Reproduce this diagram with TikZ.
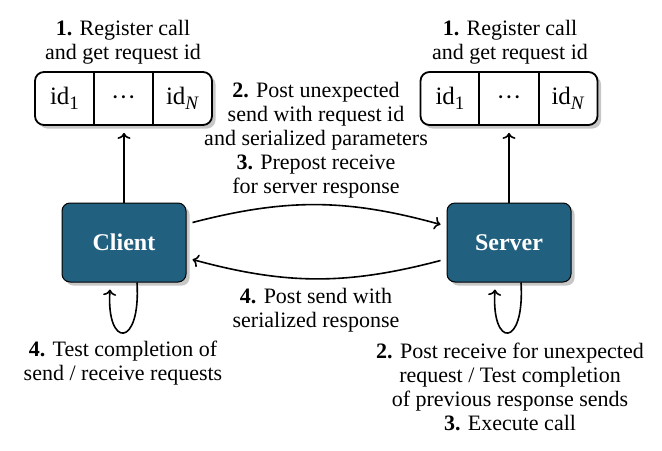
\documentclass[tikz,border=0pt]{standalone}
\usepackage{fontspec}
\setmainfont{Liberation Serif}
\usetikzlibrary{shadows,calc,arrows.meta}
\definecolor{nodeblue}{RGB}{34,96,128}
\tikzset{
  shad/.style={drop shadow={shadow xshift=1.8pt,shadow yshift=-1.8pt,fill=black!22,opacity=1}},
  actor/.style={draw=black,line width=0.5pt,fill=nodeblue,rounded corners=4pt,minimum width=62pt,minimum height=39.5pt,
    text=white,font=\fontsize{12}{14}\selectfont\bfseries,shad},
  idbox/.style={draw=black,line width=0.9pt,fill=white,rounded corners=4.5pt,minimum width=88.5pt,minimum height=26.5pt,shad},
  idtxt/.style={font=\fontsize{12.5}{14}\selectfont,inner sep=0pt},
  lbl/.style={align=center,font=\fontsize{11}{12}\selectfont,inner sep=0pt},
  conn/.style={-{To[length=3pt,width=6.5pt]},line width=0.8pt},
  divl/.style={line width=0.9pt}
}
\newcommand{\sbs}[1]{\raisebox{-0.4ex}{\fontsize{9.5}{10}\selectfont #1}}
\begin{document}
\begin{tikzpicture}[x=0.5pt,y=-0.5pt]
\useasboundingbox (0,0) rectangle (662,450);

% id boxes
\node[idbox] (idsL) at (123.5,98.5) {};
\node[idbox] (idsR) at (509,98.5) {};
\draw[divl] ($(idsL.north west)!1/3!(idsL.north east)$) coordinate (l1t) -- ($(idsL.south west)!1/3!(idsL.south east)$) coordinate (l1b);
\draw[divl] ($(idsL.north west)!2/3!(idsL.north east)$) coordinate (l2t) -- ($(idsL.south west)!2/3!(idsL.south east)$) coordinate (l2b);
\draw[divl] ($(idsR.north west)!1/3!(idsR.north east)$) coordinate (r1t) -- ($(idsR.south west)!1/3!(idsR.south east)$) coordinate (r1b);
\draw[divl] ($(idsR.north west)!2/3!(idsR.north east)$) coordinate (r2t) -- ($(idsR.south west)!2/3!(idsR.south east)$) coordinate (r2b);
\node[idtxt] (idL1) at ($(idsL.center)+(-59,0)$) {id\sbs{1}};
\node[idtxt] (idL2) at ($(idsL.center)+(0,2.5)$) {\textperiodcentered\textperiodcentered\textperiodcentered};
\node[idtxt] (idL3) at ($(idsL.center)+(59,0)$) {id\sbs{\textit{N}}};
\node[idtxt] (idR1) at ($(idsR.center)+(-59,0)$) {id\sbs{1}};
\node[idtxt] (idR2) at ($(idsR.center)+(0,2.5)$) {\textperiodcentered\textperiodcentered\textperiodcentered};
\node[idtxt] (idR3) at ($(idsR.center)+(59,0)$) {id\sbs{\textit{N}}};

% actors
\node[actor] (client) at (124,242.5) {Client};
\node[actor] (server) at (509,242.5) {Server};

% labels
\node[lbl] (regL) at (123,42.5) {\textbf{1.} Register call\\and get request id};
\node[lbl] (regR) at (510,42.5) {\textbf{1.} Register call\\and get request id};
\node[lbl] (post) at (316,140) {\textbf{2.} Post unexpected\\send with request id\\and serialized parameters\\\textbf{3.} Prepost receive\\for server response};
\node[lbl] (resp) at (316,310.5) {\textbf{4.} Post send with\\serialized response};
\node[lbl] (testL) at (123,363) {\textbf{4.} Test completion of\\send / receive requests};
\node[lbl] (testR) at (510,387) {\textbf{2.} Post receive for unexpected\\request / Test completion\\of previous response sends\\\textbf{3.} Execute call};

% connectors
\draw[conn,shorten >=3.5pt] (client.north) -- (client.north |- idsL.south);
\draw[conn,shorten >=3.5pt] (server.north) -- (server.north |- idsR.south);
\draw[conn] ([xshift=3pt,yshift=10pt]client.east) to[bend left=15] ([xshift=-3pt,yshift=9pt]server.west);
\draw[conn] ([xshift=-3pt,yshift=-9pt]server.west) to[bend left=15] ([xshift=3pt,yshift=-8.5pt]client.east);
\draw[conn] ([xshift=6.5pt]client.south) .. controls +(2pt,-33pt) and +(-2pt,-29.5pt) .. ([xshift=-7pt,yshift=-3.5pt]client.south);
\draw[conn] ([xshift=6pt]server.south) .. controls +(2pt,-33pt) and +(-2pt,-29.5pt) .. ([xshift=-7pt,yshift=-3.5pt]server.south);
\end{tikzpicture}
\end{document}
